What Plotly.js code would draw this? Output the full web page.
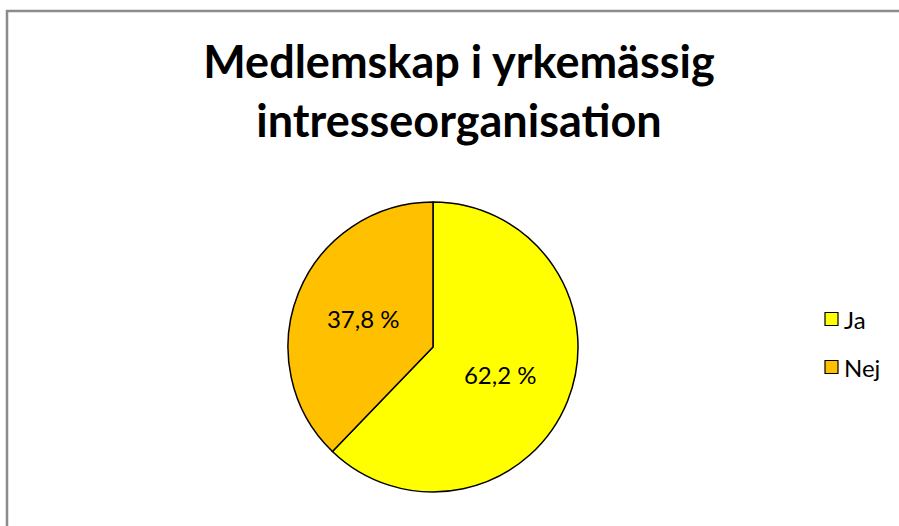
<!DOCTYPE html>
<html>
<head>
<meta charset="utf-8">
<script src="https://cdn.plot.ly/plotly-3.0.1.min.js"></script>
<style>html,body{margin:0;padding:0;background:#fff;}#chart{width:899px;height:526px;}</style>
</head>
<body>
<div id="chart"></div>
<script>
const categories = ["Ja", "Nej"];
const values = [62.2, 37.8];
const valueLabels = ["62,2 %", "37,8 %"];
const colors = ["#FFFF00", "#FFC000"];
const titleText = "Medlemskap i yrkemässig<br>intresseorganisation";

const W = 899, H = 526;
const px = x => x / W;
const py = y => 1 - y / H;
const FONT = "Lato, 'Open Sans', sans-serif";

const trace = {
  type: "pie",
  labels: categories,
  values: values,
  text: valueLabels,
  texttemplate: "%{text}",
  textinfo: "text",
  textposition: "inside",
  insidetextorientation: "horizontal",
  insidetextfont: {family: FONT, size: 24, color: "#000"},
  sort: false,
  direction: "clockwise",
  rotation: 0,
  marker: {colors: colors, line: {color: "#000", width: 1.5}},
  domain: {x: [px(288), px(578)], y: [py(492), py(202)]},
  showlegend: false,
  hoverinfo: "label+percent"
};

// Legend drawn as layout decoration from the category / colour arrays
const legendX = 825, legendY0 = 319, legendGap = 48, sq = 13;
const legendShapes = categories.map((c, i) => ({
  type: "rect", xref: "paper", yref: "paper",
  x0: px(legendX), x1: px(legendX + sq),
  y0: py(legendY0 + i * legendGap + sq / 2), y1: py(legendY0 + i * legendGap - sq / 2),
  fillcolor: colors[i], line: {color: "#000", width: 1.2}
}));
const legendAnnotations = categories.map((c, i) => ({
  xref: "paper", yref: "paper",
  x: px(legendX + sq + 4), xanchor: "left",
  y: py(legendY0 + i * legendGap), yanchor: "middle",
  text: c, showarrow: false,
  font: {family: FONT, size: 24, color: "#000"}
}));

const layout = {
  width: W, height: H,
  margin: {l: 0, r: 0, t: 0, b: 0},
  paper_bgcolor: "#fff",
  showlegend: false,
  font: {family: FONT, color: "#000"},
  title: {
    text: titleText,
    font: {family: FONT, size: 45, weight: "bold", color: "#000"},
    x: px(459), xanchor: "center",
    y: py(78), yanchor: "top",
    xref: "paper", yref: "paper"
  },
  annotations: legendAnnotations,
  shapes: [{
    type: "path", xref: "paper", yref: "paper",
    path: `M ${px(7)} 0 L ${px(7)} ${py(11)} L 1 ${py(11)}`,
    line: {color: "#8c8c8c", width: 2.5}
  }].concat(legendShapes)
};

Plotly.newPlot("chart", [trace], layout, {displayModeBar: false, staticPlot: true});
</script>
</body>
</html>
